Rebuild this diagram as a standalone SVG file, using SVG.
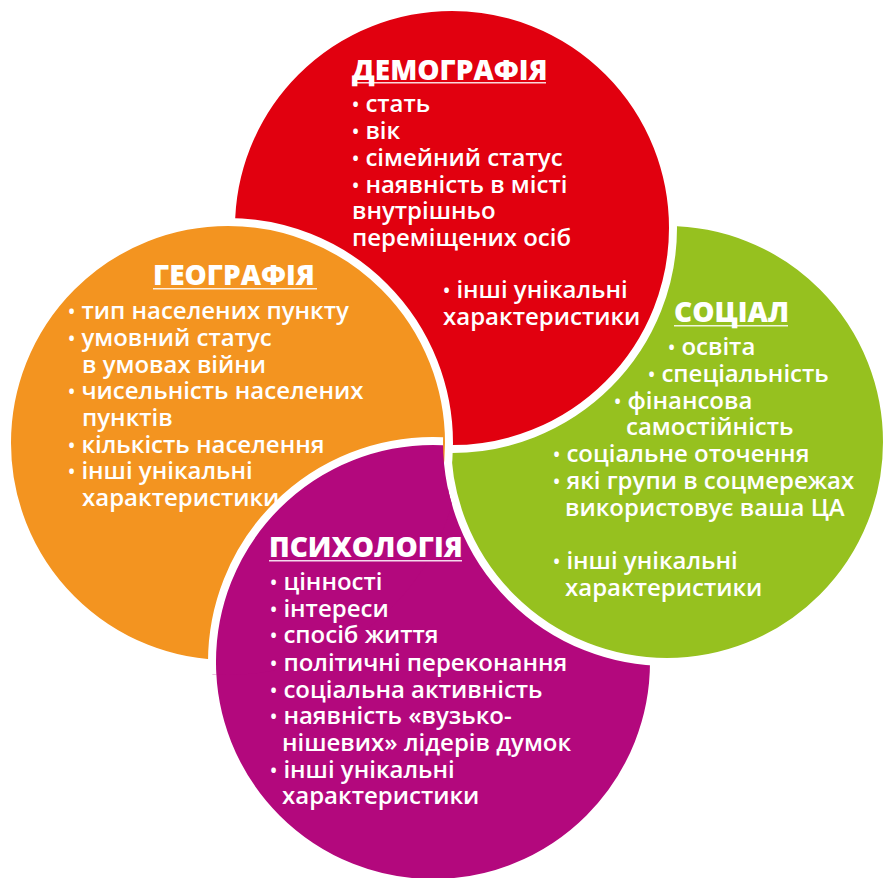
<svg xmlns="http://www.w3.org/2000/svg" xmlns:xlink="http://www.w3.org/1999/xlink" width="884" height="878" viewBox="0 0 884 878">
  <style>
    .disc { stroke: #ffffff; stroke-width: 8; }
    .red { fill: #E1000F; }
    .orange { fill: #F39420; }
    .green { fill: #96C11F; }
    .purple { fill: #B3087D; }
    text { font-family: "Open Sans", "Noto Sans", "DejaVu Sans", sans-serif; fill: #ffffff; }
    .title { font-size: 28px; font-weight: 800; }
    .item { font-size: 24px; font-weight: 600; }
    .b { font-size: 19px; }
    .rule { fill: #ffffff; opacity: 0.85; }
  </style>
  <defs>
    <!-- area around the orange disc, a little beyond its white rim -->
    <clipPath id="clip-orange">
      <circle cx="228" cy="443" r="232"/>
    </clipPath>
    <!-- everything except the green disc and its rim -->
    <clipPath id="clip-not-green">
      <path clip-rule="evenodd" d="M0 0H884V878H0Z M443 442a224 224 0 1 0 448 0a224 224 0 1 0 -448 0Z"/>
    </clipPath>
  </defs>

  <rect width="884" height="878" fill="#ffffff"/>

  <!-- Four discs overlap in a cycle: green over purple, red over green,
       orange over red, purple over orange -->
  <g id="discs">
    <circle id="disc-psychology" class="disc purple" cx="433" cy="662" r="221"/>
    <circle id="disc-social" class="disc green" cx="667" cy="442" r="220"/>
    <circle id="disc-demography" class="disc red" cx="452" cy="228" r="221"/>
    <circle id="disc-geography" class="disc orange" cx="228" cy="443" r="221"/>
    <g clip-path="url(#clip-orange)">
      <g clip-path="url(#clip-not-green)">
        <use xlink:href="#disc-psychology"/>
      </g>
    </g>
  </g>

  <g id="demography">
    <text class="title" x="352" y="80">ДЕМОГРАФІЯ</text>
    <rect class="rule" x="352" y="82" width="194" height="1.5"/>
    <text class="item" x="352" y="112"><tspan class="b">•</tspan> стать</text>
    <text class="item" x="352" y="139"><tspan class="b">•</tspan> вік</text>
    <text class="item" x="352" y="166"><tspan class="b">•</tspan> сімейний статус</text>
    <text class="item" x="352" y="193"><tspan class="b">•</tspan> наявність в місті</text>
    <text class="item" x="352" y="219">внутрішньо</text>
    <text class="item" x="352" y="246">переміщених осіб</text>
    <text class="item" x="443" y="298"><tspan class="b">•</tspan> інші унікальні</text>
    <text class="item" x="443" y="325">характеристики</text>
  </g>

  <g id="geography">
    <text class="title" x="153" y="285">ГЕОГРАФІЯ</text>
    <rect class="rule" x="153" y="288" width="164" height="1.5"/>
    <text class="item" x="68" y="319"><tspan class="b">•</tspan> тип населених пункту</text>
    <text class="item" x="68" y="346"><tspan class="b">•</tspan> умовний статус</text>
    <text class="item" x="82" y="373">в умовах війни</text>
    <text class="item" x="68" y="399"><tspan class="b">•</tspan> чисельність населених</text>
    <text class="item" x="82" y="426">пунктів</text>
    <text class="item" x="68" y="453"><tspan class="b">•</tspan> кількість населення</text>
    <text class="item" x="68" y="479"><tspan class="b">•</tspan> інші унікальні</text>
    <text class="item" x="82" y="506">характеристики</text>
  </g>

  <g id="social">
    <text class="title" x="674" y="322">СОЦІАЛ</text>
    <rect class="rule" x="674" y="325" width="114" height="1.5"/>
    <text class="item" x="668" y="355"><tspan class="b">•</tspan> освіта</text>
    <text class="item" x="648" y="382"><tspan class="b">•</tspan> спеціальність</text>
    <text class="item" x="614" y="409"><tspan class="b">•</tspan> фінансова</text>
    <text class="item" x="626" y="435">самостійність</text>
    <text class="item" x="553" y="462"><tspan class="b">•</tspan> соціальне оточення</text>
    <text class="item" x="553" y="489"><tspan class="b">•</tspan> які групи в соцмережах</text>
    <text class="item" x="565" y="516">використовує ваша ЦА</text>
    <text class="item" x="553" y="569"><tspan class="b">•</tspan> інші унікальні</text>
    <text class="item" x="565" y="596">характеристики</text>
  </g>

  <g id="psychology">
    <text class="title" x="269" y="557">ПСИХОЛОГІЯ</text>
    <rect class="rule" x="269" y="560" width="193" height="1.5"/>
    <text class="item" x="270" y="590"><tspan class="b">•</tspan> цінності</text>
    <text class="item" x="270" y="617"><tspan class="b">•</tspan> інтереси</text>
    <text class="item" x="270" y="643"><tspan class="b">•</tspan> спосіб життя</text>
    <text class="item" x="270" y="671"><tspan class="b">•</tspan> політичні переконання</text>
    <text class="item" x="270" y="698"><tspan class="b">•</tspan> соціальна активність</text>
    <text class="item" x="270" y="724"><tspan class="b">•</tspan> наявність «вузько-</text>
    <text class="item" x="282" y="751">нішевих» лідерів думок</text>
    <text class="item" x="270" y="778"><tspan class="b">•</tspan> інші унікальні</text>
    <text class="item" x="282" y="804">характеристики</text>
  </g>
</svg>
